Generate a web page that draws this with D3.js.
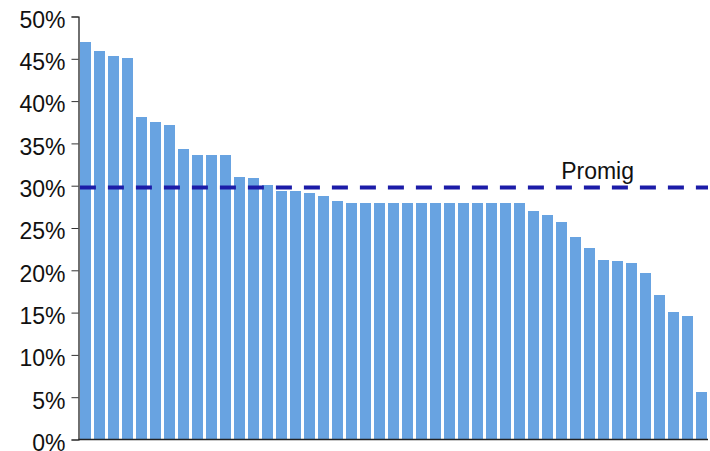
<!DOCTYPE html>
<html>
<head>
<meta charset="utf-8">
<script src="https://cdn.jsdelivr.net/npm/d3@7/dist/d3.min.js"></script>
<style>
  html, body { margin: 0; padding: 0; background: #fff; }
  svg { display: block; font-family: "Liberation Sans", Arial, sans-serif; }
</style>
</head>
<body>
<svg id="chart" width="710" height="451"></svg>
<script>
// Share per item, sorted from highest to lowest (percent)
const categories = d3.range(1, 46).map(i => "item" + i);
const values = [
  47.0, 45.9, 45.3, 45.1, 38.1, 37.5, 37.2, 34.3, 33.6, 33.6,
  33.6, 31.0, 30.9, 30.1, 29.4, 29.4, 29.1, 28.8, 28.2, 28.0,
  28.0, 28.0, 28.0, 28.0, 28.0, 28.0, 28.0, 28.0, 28.0, 28.0,
  28.0, 28.0, 27.0, 26.5, 25.7, 23.9, 22.6, 21.2, 21.1, 20.9,
  19.7, 17.1, 15.1, 14.6, 5.6
];
const averageLabel = "Promig";
const averageValue = 29.8;
const yTicks = [0, 5, 10, 15, 20, 25, 30, 35, 40, 45, 50];

const data = categories.map((c, i) => ({ cat: c, value: values[i] }));

const svg = d3.select("#chart");
const margin = { top: 16.5, right: 2, bottom: 11.5, left: 78.5 };
const width = 710 - margin.left - margin.right;
const height = 451 - margin.top - margin.bottom;

const g = svg.append("g").attr("transform", `translate(${margin.left},${margin.top})`);

const x = d3.scaleBand()
  .domain(categories)
  .range([0, width])
  .paddingInner(0.21)
  .paddingOuter(0.1);

const y = d3.scaleLinear().domain([0, 50]).range([height, 0]);

// Bars
g.selectAll("rect.bar")
  .data(data)
  .join("rect")
  .attr("class", "bar")
  .attr("x", d => x(d.cat))
  .attr("y", d => y(d.value))
  .attr("width", x.bandwidth())
  .attr("height", d => y(0) - y(d.value))
  .attr("fill", "#68a3e1")
  .attr("shape-rendering", "crispEdges");

// Y axis
const yAxis = g.append("g")
  .call(d3.axisLeft(y).tickValues(yTicks).tickFormat(d => d + "%").tickSize(7).tickPadding(6));
yAxis.select(".domain").attr("stroke", "#111").attr("stroke-width", 1.2);
yAxis.selectAll(".tick line").attr("stroke", "#333");
yAxis.selectAll(".tick text")
  .attr("fill", "#111")
  .style("font-size", "23px")
  .attr("dy", "0.47em");

// X axis baseline
g.append("line")
  .attr("x1", 0).attr("x2", width)
  .attr("y1", y(0)).attr("y2", y(0))
  .attr("stroke", "#222")
  .attr("stroke-width", 1.5);

// Average reference line
g.append("line")
  .attr("x1", x(categories[0])).attr("x2", width)
  .attr("y1", y(averageValue)).attr("y2", y(averageValue))
  .attr("stroke", "#1c1ca8")
  .attr("stroke-width", 4)
  .attr("stroke-dasharray", "16 12");

g.append("text")
  .attr("x", x(categories[34]) + x.bandwidth() / 2)
  .attr("y", y(averageValue) - 8)
  .attr("fill", "#111")
  .style("font-size", "23px")
  .text(averageLabel);
</script>
</body>
</html>
